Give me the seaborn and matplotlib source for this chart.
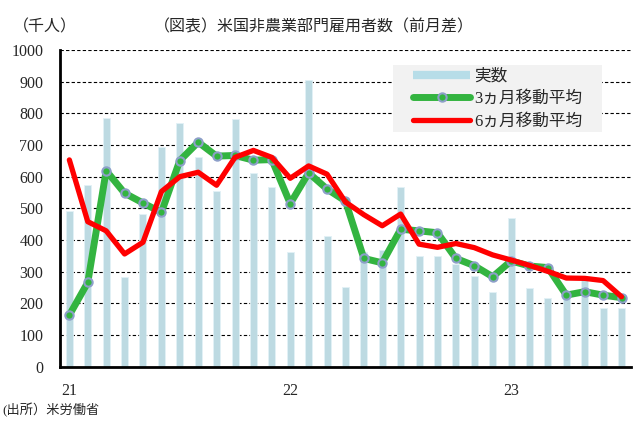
import numpy as np
import pandas as pd
import matplotlib.pyplot as plt
import seaborn as sns
from matplotlib.lines import Line2D
from matplotlib.patches import Rectangle

# monthly data, Jan 2021 - Jul 2023 (thousands)
actual = [493, 574, 784, 284, 482, 693, 769, 662, 556, 781, 613, 569,
          362, 904, 413, 252, 361, 368, 568, 351, 349, 323, 288, 237,
          471, 247, 216, 215, 280, 184, 184]
ma3 = [163, 266, 619, 548, 517, 487, 651, 709, 665, 667, 652, 654,
       515, 612, 561, 523, 342, 328, 434, 429, 423, 342, 319, 284,
       334, 318, 313, 226, 237, 226, 218]
ma6 = [653, 458, 429, 356, 393, 553, 600, 614, 573, 661, 683, 661,
       595, 634, 608, 520, 480, 445, 482, 387, 377, 389, 376, 353,
       337, 320, 301, 280, 279, 272, 221]
year_labels = ['21', '22', '23']
year_pos = [0, 12, 24]

df = pd.DataFrame({'pos': range(len(actual)), 'actual': actual,
                   'ma3': ma3, 'ma6': ma6})

sns.set_style('white')
plt.rcParams['font.family'] = ['Liberation Serif', 'Noto Sans CJK JP']
plt.rcParams['font.size'] = 11.5

fig = plt.figure(figsize=(6.4, 4.22), dpi=100)
ax = fig.add_axes([0.094, 0.131, 0.8915, 0.7505])

bar_c = '#b7dde8'
green = '#33b440'
red = '#ff0000'

sns.barplot(data=df, x='pos', y='actual', color=bar_c, width=0.38,
            edgecolor='#e2f1f6', linewidth=0.6, ax=ax, zorder=2)
sns.lineplot(data=df, x='pos', y='ma3', color=green, lw=5, marker='o',
             markersize=6, markerfacecolor=green, markeredgecolor='#8d9fc9',
             markeredgewidth=1.5, ax=ax, zorder=3)
sns.lineplot(data=df, x='pos', y='ma6', color=red, lw=3.8, ax=ax, zorder=4)

ax.set_xlim(-0.5, len(actual) - 0.5)
ax.set_ylim(0, 1000)
ax.set_yticks(np.arange(0, 1001, 100))
ax.set_xticks(np.arange(-0.5, len(actual), 1))
ax.set_xticklabels([])
ax.set_xticks(year_pos, minor=True)
ax.set_xticklabels(year_labels, minor=True)
ax.tick_params(axis='x', which='major', direction='in', length=4, width=1.5)
ax.tick_params(axis='x', which='minor', length=0, pad=12)
ax.tick_params(axis='y', direction='in', length=3, width=1.5, pad=12)
ax.set_xlabel('')
ax.set_ylabel('')

ax.yaxis.grid(True, color='black', linestyle=(0, (3, 2)), linewidth=0.8)
ax.set_axisbelow(True)
for s in ['top', 'right']:
    ax.spines[s].set_visible(False)
for s in ['left', 'bottom']:
    ax.spines[s].set_linewidth(2)
    ax.spines[s].set_color('black')

# legend background panel
ax.add_patch(Rectangle((0.584, 0.741), 0.366, 0.212, transform=ax.transAxes,
                       facecolor='#f2f2f2', edgecolor='none', zorder=5))

handles = [
    Line2D([], [], color=bar_c, lw=6, solid_capstyle='butt'),
    Line2D([], [], color=green, lw=5, marker='o', markersize=6,
           markerfacecolor=green, markeredgecolor='#8d9fc9', markeredgewidth=1.5),
    Line2D([], [], color=red, lw=3.8),
]
leg = ax.legend(handles, ['実数', '3ヵ月移動平均', '6ヵ月移動平均'],
                loc='upper left', bbox_to_anchor=(0.619, 0.941),
                frameon=False, borderpad=0, borderaxespad=0,
                handlelength=3.4, numpoints=1, labelspacing=0.38,
                handletextpad=0.25, prop={'size': 12})
leg.set_zorder(6)

fig.text(0.02, 0.936, '（千人）', ha='left', va='center')
fig.text(0.24, 0.936, '（図表）米国非農業部門雇用者数（前月差）', ha='left', va='center')
fig.text(0.003, 0.028, '(出所）米労働省', ha='left', va='center', fontsize=9.5)

plt.savefig('out.png', dpi=100)
